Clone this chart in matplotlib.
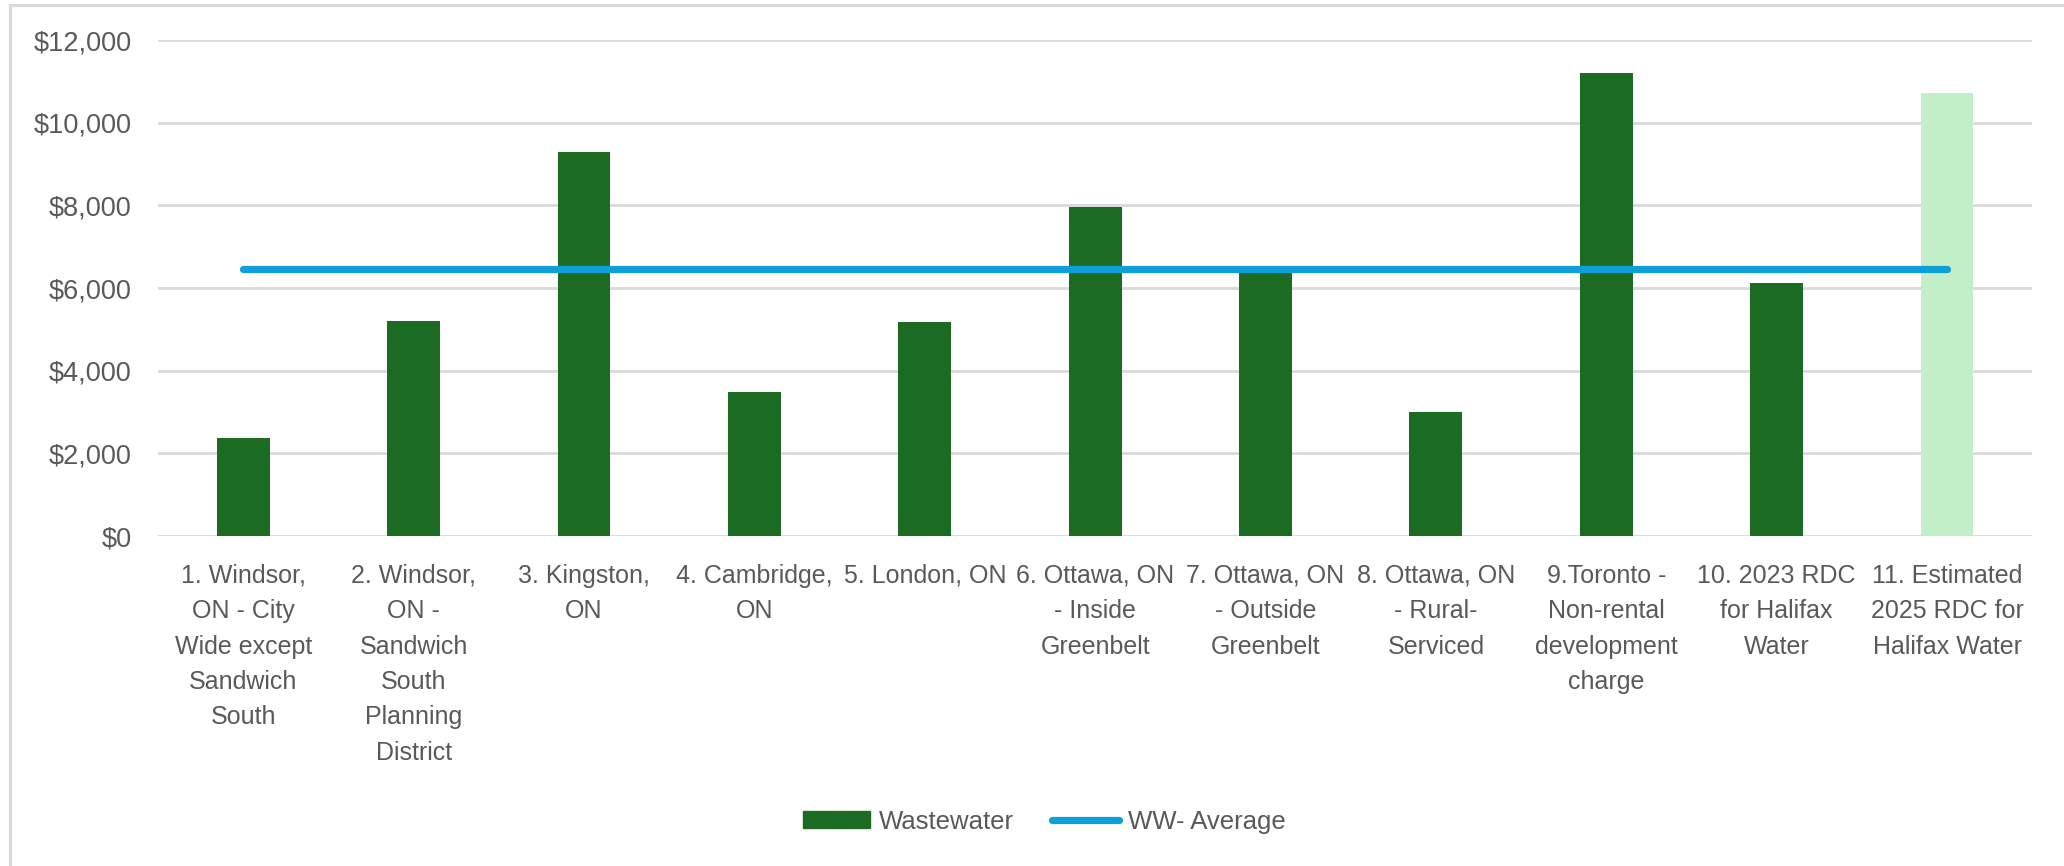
import numpy as np
import matplotlib
matplotlib.use("Agg")
import matplotlib.pyplot as plt
from matplotlib.patches import Rectangle, Patch
from matplotlib.lines import Line2D

# Data
categories = [
    "1. Windsor,\nON - City\nWide except\nSandwich\nSouth",
    "2. Windsor,\nON -\nSandwich\nSouth\nPlanning\nDistrict",
    "3. Kingston,\nON",
    "4. Cambridge,\nON",
    "5. London, ON",
    "6. Ottawa, ON\n- Inside\nGreenbelt",
    "7. Ottawa, ON\n- Outside\nGreenbelt",
    "8. Ottawa, ON\n- Rural-\nServiced",
    "9.Toronto -\nNon-rental\ndevelopment\ncharge",
    "10. 2023 RDC\nfor Halifax\nWater",
    "11. Estimated\n2025 RDC for\nHalifax Water",
]
wastewater = [2370, 5200, 9300, 3480, 5170, 7970, 6400, 2990, 11200, 6130, 10730]
ww_average = [6450] * 11
y_ticks = [0, 2000, 4000, 6000, 8000, 10000, 12000]

dark_green = "#1B6B23"
light_green = "#C2EFC8"
blue = "#0E9FD8"
grid_col = "#D9D9D9"
text_col = "#595959"
fam = ["Liberation Sans", "DejaVu Sans"]

fig = plt.figure(figsize=(20.64, 8.66), dpi=100)
ax = fig.add_axes([0.0766, 0.381, 0.908, 0.5727])

x = np.arange(len(categories))
colors = [dark_green] * 10 + [light_green]
ax.bar(x, wastewater, width=0.31, color=colors, zorder=2)
ax.plot(x, ww_average, color=blue, lw=5.2, solid_capstyle="round", zorder=3)

ax.set_xlim(-0.5, len(categories) - 0.5)
ax.set_ylim(0, 12000)
ax.set_yticks(y_ticks)
ax.set_yticklabels(["$" + format(v, ",") for v in y_ticks],
                   fontsize=19.5, color=text_col, family=fam)
ax.set_xticks(x)
ax.set_xticklabels(categories, fontsize=18, color=text_col, linespacing=1.6, family=fam)
ax.tick_params(axis="y", length=0, pad=19)
ax.tick_params(axis="x", length=0, pad=20)
ax.grid(axis="y", color=grid_col, lw=2, zorder=0)
for s in ax.spines.values():
    s.set_visible(False)

# legend
handles = [Patch(color=dark_green, label="Wastewater"),
           Line2D([0], [0], color=blue, lw=5.2, solid_capstyle="round", label="WW- Average")]
fig.legend(handles=handles, loc="center", bbox_to_anchor=(0.506, 0.051), ncol=2,
           frameon=False, handlelength=2.6, handleheight=0.65, handletextpad=0.35,
           columnspacing=1.5, prop={"family": fam, "size": 18.5},
           labelcolor=text_col)

# chart border (cropped on right and bottom)
fig.add_artist(Rectangle((0.00484, -0.2), 1.5, 0.2 + 0.9942, transform=fig.transFigure,
                         fill=False, ec=grid_col, lw=2.2))

fig.savefig("out.png", dpi=100)
